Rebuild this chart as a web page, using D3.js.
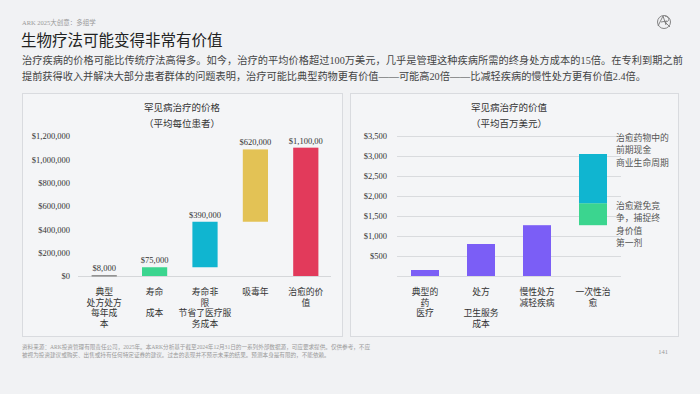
<!DOCTYPE html>
<html>
<head>
<meta charset="utf-8">
<script src="https://cdn.jsdelivr.net/npm/d3@7"></script>
<style>
  html, body { margin: 0; padding: 0; background: #f1f2f4; }
  svg { display: block; }
  text { font-family: "Liberation Serif", "Noto Sans CJK SC", serif; }
</style>
</head>
<body>
<svg id="chart" width="700" height="394"></svg>
<script>
// ---- data ----
const HEADER = "ARK 2025大创意：多组学"
const TITLE = "生物疗法可能变得非常有价值"
const SUBTITLE = [
    "治疗疾病的价格可能比传统疗法高得多。如今，治疗的平均价格超过100万美元，几乎是管理这种疾病所需的终身处方成本的15倍。在专利到期之前",
    "提前获得收入并解决大部分患者群体的问题表明，治疗可能比典型药物更有价值——可能高20倍——比减轻疾病的慢性处方更有价值2.4倍。"
]
const FOOTNOTE = [
    "资料来源：ARK投资管理有限责任公司，2025年。本ARK分析基于截至2024年12月31日的一系列外部数据源，可应要求提供。仅供参考，不应",
    "被视为投资建议或购买、出售或持有任何特定证券的建议。过去的表现并不预示未来的结果。预测本身是有限的，不能依赖。"
]
const PAGE_NUMBER = "141"

// left chart: price of rare disease therapy (waterfall)
const PRICE_TITLE = ["罕见病治疗的价格", "（平均每位患者）"]
const PRICE_CATEGORIES = ["typical", "lifetime", "unlimited", "drugYears", "cure"]
const PRICE_LABELS = [
    ["典型", "处方处方", "每年成", "本"],
    ["寿命", "", "成本"],
    ["寿命非", "限", "节省了医疗服", "务成本"],
    ["吸毒年"],
    ["治愈的价", "值"]
]
const PRICE_START = [0, 0, 75000, 465000, 0]
const PRICE_VALUES = [8000, 75000, 390000, 620000, 1100000]
const PRICE_VALUE_TEXT = ["$8,000", "$75,000", "$390,000", "$620,000", "$1,100,00"]
const PRICE_COLORS = ["#8c8c8c", "#3bd58f", "#10b5d0", "#e3c255", "#e23a5b"]
const PRICE_TICKS = [0, 200000, 400000, 600000, 800000, 1000000, 1200000]

// right chart: value of rare disease therapy (millions USD)
const VALUE_TITLE = ["罕见病治疗的价值", "（平均百万美元）"]
const VALUE_CATEGORIES = ["typical", "prescription", "chronic", "cure"]
const VALUE_LABELS = [
    ["典型的", "药", "医疗"],
    ["处方", "", "卫生服务", "成本"],
    ["慢性处方", "减轻疾病"],
    ["一次性治", "愈"]
]
const VALUE_SEG_CATEGORY = ["typical", "prescription", "chronic", "cure", "cure"]
const VALUE_SEG_START = [0, 0, 0, 1270, 1820]
const VALUE_SEG_END = [150, 800, 1270, 1820, 3050]
const VALUE_SEG_COLORS = ["#7b5ef6", "#7b5ef6", "#7b5ef6", "#3bd58f", "#10b5d0"]
const VALUE_TICKS = [0, 500, 1000, 1500, 2000, 2500, 3000, 3500]
const VALUE_NOTES = [
    ["治愈药物中的", "前期现金", "商业生命周期"],
    ["治愈避免竞", "争，捕捉终", "身价值", "第一剂"]
]
const VALUE_NOTE_AT = [3500, 1800]

// ---- drawing ----
const svg = d3.select("#chart")
const TEXT_DARK = "#333"
const TEXT_MID = "#555"

svg.append("rect").attr("width", 700).attr("height", 394).attr("fill", "#f1f2f4")

// header
svg.append("text")
    .attr("x", 22).attr("y", 25)
    .attr("font-size", 6.5).attr("fill", "#999")
    .text(HEADER)
svg.append("text")
    .attr("x", 21).attr("y", 46)
    .attr("font-size", 15.5).attr("fill", "#222")
    .text(TITLE)
svg.selectAll(".subtitle")
    .data(SUBTITLE)
    .enter().append("text")
    .attr("class", "subtitle")
    .attr("x", 22).attr("y", (d, i) => 64 + i * 15.5)
    .attr("font-size", 10.2).attr("fill", "#444")
    .attr("textLength", (d, i) => i === 0 ? 661 : null)
    .text(d => d)

// logo
const logo = svg.append("g").attr("transform", "translate(664,22)")
logo.append("circle").attr("r", 6.5).attr("fill", "none").attr("stroke", "#777").attr("stroke-width", 0.9)
logo.append("path")
    .attr("d", "M-6,4 L-1,-6 L2,3 M-3,0 L3,-1 M1,-6 C6,-5 6,0 1,0 L6,5")
    .attr("fill", "none").attr("stroke", "#777").attr("stroke-width", 0.9)

// panels
const panels = [[22, 93, 320, 243], [350, 93, 328, 243]]
svg.selectAll(".panel")
    .data(panels)
    .enter().append("rect")
    .attr("class", "panel")
    .attr("x", d => d[0] + 0.5).attr("y", d => d[1] + 0.5)
    .attr("width", d => d[2]).attr("height", d => d[3])
    .attr("fill", "#f4f5f7").attr("stroke", "#d9dbdf").attr("stroke-width", 1)

function chartTitle(lines, cx) {
    svg.selectAll(null)
        .data(lines)
        .enter().append("text")
        .attr("x", cx).attr("y", (d, i) => 111 + i * 16)
        .attr("text-anchor", "middle")
        .attr("font-size", 9.5).attr("fill", TEXT_DARK)
        .text(d => d)
}

function categoryLabels(xScale, cats, labels) {
    cats.forEach((c, i) => {
        svg.selectAll(null)
            .data(labels[i])
            .enter().append("text")
            .attr("x", xScale(c) + xScale.bandwidth() / 2)
            .attr("y", (d, j) => 295 + j * 10.5)
            .attr("text-anchor", "middle")
            .attr("font-size", 8.8).attr("fill", TEXT_DARK)
            .text(d => d)
    })
}

// ---- left chart ----
const xL = d3.scaleBand()
    .domain(PRICE_CATEGORIES)
    .range([79, 331])
    .paddingInner(0.5)
    .paddingOuter(0.25)
const yL = d3.scaleLinear().domain([0, 1200000]).range([276, 136])

chartTitle(PRICE_TITLE, 182)

const yAxisL = svg.append("g")
    .attr("transform", "translate(74,0)")
    .call(d3.axisLeft(yL).tickValues(PRICE_TICKS).tickFormat(d3.format("$,")).tickSize(0).tickPadding(4))
yAxisL.select(".domain").remove()
yAxisL.selectAll("text").attr("font-size", 8.5).attr("fill", TEXT_DARK).attr("font-family", null)

svg.append("line")
    .attr("x1", 78).attr("x2", 331)
    .attr("y1", yL(0) + 0.5).attr("y2", yL(0) + 0.5)
    .attr("stroke", "#d5d7da")

svg.selectAll(".priceBar")
    .data(PRICE_CATEGORIES)
    .enter().append("rect")
    .attr("class", "priceBar")
    .attr("x", d => xL(d))
    .attr("width", xL.bandwidth())
    .attr("y", (d, i) => yL(PRICE_START[i] + PRICE_VALUES[i]))
    .attr("height", (d, i) => Math.max(1.5, yL(PRICE_START[i]) - yL(PRICE_START[i] + PRICE_VALUES[i])))
    .attr("fill", (d, i) => PRICE_COLORS[i])

svg.selectAll(".priceValue")
    .data(PRICE_CATEGORIES)
    .enter().append("text")
    .attr("class", "priceValue")
    .attr("x", d => xL(d) + xL.bandwidth() / 2)
    .attr("y", (d, i) => yL(PRICE_START[i] + PRICE_VALUES[i]) - 4)
    .attr("text-anchor", "middle")
    .attr("font-size", 8.5).attr("fill", TEXT_DARK)
    .text((d, i) => PRICE_VALUE_TEXT[i])

categoryLabels(xL, PRICE_CATEGORIES, PRICE_LABELS)

// ---- right chart ----
const xR = d3.scaleBand()
    .domain(VALUE_CATEGORIES)
    .range([397, 621])
    .paddingInner(0.5)
    .paddingOuter(0.25)
const yR = d3.scaleLinear().domain([0, 3500]).range([276, 136])

chartTitle(VALUE_TITLE, 509)

svg.selectAll(".grid")
    .data(VALUE_TICKS)
    .enter().append("line")
    .attr("class", "grid")
    .attr("x1", 397).attr("x2", 621)
    .attr("y1", d => yR(d) + 0.5).attr("y2", d => yR(d) + 0.5)
    .attr("stroke", "#d9dbde")

const yAxisR = svg.append("g")
    .attr("transform", "translate(391,0)")
    .call(d3.axisLeft(yR).tickValues(VALUE_TICKS.filter(d => d > 0)).tickFormat(d3.format("$,")).tickSize(0).tickPadding(4))
yAxisR.select(".domain").remove()
yAxisR.selectAll("text").attr("font-size", 8.5).attr("fill", TEXT_DARK).attr("font-family", null)

svg.selectAll(".valueBar")
    .data(VALUE_SEG_CATEGORY)
    .enter().append("rect")
    .attr("class", "valueBar")
    .attr("x", d => xR(d))
    .attr("width", xR.bandwidth())
    .attr("y", (d, i) => yR(VALUE_SEG_END[i]))
    .attr("height", (d, i) => yR(VALUE_SEG_START[i]) - yR(VALUE_SEG_END[i]))
    .attr("fill", (d, i) => VALUE_SEG_COLORS[i])

categoryLabels(xR, VALUE_CATEGORIES, VALUE_LABELS)

VALUE_NOTES.forEach((lines, i) => {
    svg.selectAll(null)
        .data(lines)
        .enter().append("text")
        .attr("x", 616)
        .attr("y", (d, j) => yR(VALUE_NOTE_AT[i]) + 5 + j * 12.4)
        .attr("font-size", 8.8).attr("fill", TEXT_MID)
        .text(d => d)
})

// footer
svg.selectAll(".foot")
    .data(FOOTNOTE)
    .enter().append("text")
    .attr("class", "foot")
    .attr("x", 22).attr("y", (d, i) => 349 + i * 8)
    .attr("font-size", 5.6).attr("fill", "#999")
    .text(d => d)
svg.append("text")
    .attr("x", 668).attr("y", 354)
    .attr("text-anchor", "end")
    .attr("font-size", 6.5).attr("fill", "#999")
    .text(PAGE_NUMBER)
</script>
</body>
</html>
